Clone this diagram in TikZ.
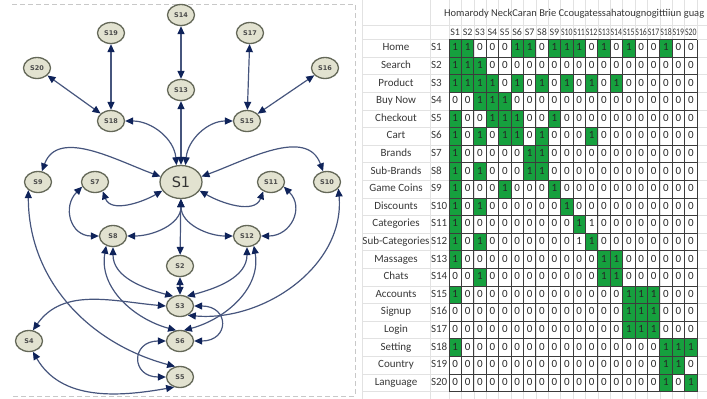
\documentclass[tikz,border=0pt]{standalone}
\usepackage{fontspec}
\usepackage{graphicx}
\setmainfont{Carlito}
\newfontfamily\graphfont{DejaVu Sans}
\usetikzlibrary{shapes.geometric,arrows.meta}

\definecolor{nodefill}{RGB}{226,226,208}
\definecolor{nodeline}{RGB}{100,104,88}
\definecolor{nodetext}{RGB}{75,75,75}
\definecolor{edgeline}{RGB}{70,85,125}
\definecolor{tipcol}{RGB}{15,35,90}
\definecolor{framegray}{RGB}{200,200,200}
\definecolor{sheetgrid}{RGB}{226,226,226}
\definecolor{cellline}{RGB}{60,60,60}
\definecolor{cellgreen}{RGB}{22,160,62}
\definecolor{labeltext}{RGB}{55,55,55}

% worksheet geometry: first cell column, cell width, first row top, row pitch
\def\cxo{449}
\def\cw{12.4}
\def\ryo{39.5}
\def\rh{17.6}

\begin{document}
\begin{tikzpicture}[x=1pt,y=1pt,
  st/.style={ellipse, draw=nodeline, fill=nodefill, line width=1.3pt,
    minimum width=27pt, minimum height=21pt, inner sep=0pt,
    font=\graphfont\bfseries\fontsize{6.5}{7}\selectfont, text=nodetext},
  hub/.style={st, minimum width=42pt, minimum height=33pt,
    font=\graphfont\fontsize{14.5}{16}\selectfont, text=black!80},
  lk/.style={draw=edgeline, line width=1.2pt,
    >={Triangle[length=8pt,width=7pt,color=tipcol]}, <->},
  sheettext/.style={inner sep=0pt, text height=7.2pt, text depth=2pt,
    font=\fontsize{11}{12}\selectfont, text=labeltext},
  digit/.style={sheettext, text=black!85},
  colhead/.style={sheettext, font=\fontsize{10}{12}\selectfont}
]
\useasboundingbox (0,0) rectangle (707,-399);

% ---------- left panel: frame ----------
\draw[framegray, line width=0.8pt, dash pattern=on 5pt off 3pt]
  (12,-4) -- (355,-4) -- (355,-396) -- (12,-396);

% ---------- graph nodes ----------
\node[st]  (S14) at (181,-15)  {S14};
\node[st]  (S19) at (111,-33)  {S19};
\node[st]  (S17) at (250,-33)  {S17};
\node[st]  (S20) at (37,-68)   {S20};
\node[st]  (S16) at (325,-68)  {S16};
\node[st]  (S13) at (181,-90)  {S13};
\node[st]  (S18) at (111,-121) {S18};
\node[st]  (S15) at (247,-121) {S15};
\node[hub] (S1)  at (181,-182) {S1};
\node[st]  (S9)  at (38,-182)  {S9};
\node[st]  (S7)  at (95,-182)  {S7};
\node[st]  (S11) at (271,-182) {S11};
\node[st]  (S10) at (327,-182) {S10};
\node[st]  (S8)  at (113,-236) {S8};
\node[st]  (S12) at (247,-236) {S12};
\node[st]  (S2)  at (180,-266) {S2};
\node[st]  (S3)  at (180,-306) {S3};
\node[st]  (S4)  at (29,-341)  {S4};
\node[st]  (S6)  at (180,-341) {S6};
\node[st]  (S5)  at (180,-377) {S5};

% ---------- graph connectors ----------
\draw[lk] (S14) -- (S13);
\draw[lk] (S13) -- (S1);
\draw[lk] (S19) -- (S18);
\draw[lk] (S20) -- (S18);
\draw[lk] (S17) -- (S15);
\draw[lk] (S16) -- (S15);
\draw[lk] (S18.east) to[out=0,in=95] (S1.105);
\draw[lk] (S15.west) to[out=180,in=85] (S1.75);
\draw[lk] (S9.70) to[out=70,in=160] (S1.165);
\draw[lk] (S10.110) to[out=110,in=20] (S1.15);
\draw[lk] (S7.200) to[out=225,in=180,looseness=1.4] (S8.west);
\draw[lk] (S11.-20) to[out=-45,in=0,looseness=1.4] (S12.east);
\draw[lk] (S7.-50) to[out=-70,in=210] (S1.205);
\draw[lk] (S11.230) to[out=250,in=-30] (S1.-25);
\draw[lk] (S8.east) to[out=0,in=-90] (S1.south);
\draw[lk] (S12.west) to[out=180,in=-90] (S1.south);
\draw[lk] (S1) -- (S2);
\draw[lk] (S2) -- (S3);
\draw[lk] (S8.south) to[out=-90,in=165] (S3.125);
\draw[lk] (S12.south) to[out=-90,in=15] (S3.55);
\draw[lk] (S8.235) to[out=-100,in=165] (S6.110);
\draw[lk] (S12.-55) to[out=-80,in=15] (S6.70);
\draw[lk] (S10.-30) to[out=-85,in=-5] (S3.-50);
\draw[lk] (S3.west) to[out=175,in=55] (S4.70);
\draw[lk] (S3.east) to[out=0,in=0,looseness=2.6] (S6.east);
\draw[lk] (S6.west) to[out=180,in=180,looseness=2.5] (S5.west);
\draw[lk] (S9.220) to[out=-90,in=165] (S5.115);
\draw[lk] (S4.-70) to[out=-60,in=190] (S5.240);

% ---------- right panel: worksheet gridlines ----------
\foreach \k in {0,...,20}
  \draw[sheetgrid, line width=0.6pt] (362,{-\ryo-\k*\rh}) -- (707,{-\ryo-\k*\rh});
\draw[sheetgrid, line width=0.6pt] (362,-25) -- (707,-25);
\foreach \xx in {362,430}
  \draw[sheetgrid, line width=0.6pt] (\xx,0) -- (\xx,-399);
\foreach \k in {0,...,20}
  \draw[sheetgrid, line width=0.6pt] ({\cxo+\k*\cw},0) -- ({\cxo+\k*\cw},-399);

% ---------- column headings ----------
\node[sheettext, anchor=west] at (444,-14)
  {\resizebox{260pt}{!}{Homarody NeckCaran Brie Ccougatessahatougnogittiiun guag}};
\foreach \j in {1,...,20} {
  \ifnum\j<10
    \node[colhead] at ({\cxo+(\j-0.5)*\cw},-32.5) {S\j};
  \else
    \node[colhead] at ({\cxo+(\j-0.5)*\cw},-32.5) {\scalebox{0.78}[1]{S\j}};
  \fi
}

% ---------- matrix rows: 2 = marked 1, 1 = plain 1, 0 = 0 ----------
\foreach \i/\nm/\vals in {
  1/Home/{2,2,0,0,0,2,2,0,2,2,2,0,2,0,2,0,0,2,0,0},
  2/Search/{2,2,2,0,0,0,0,0,0,0,0,0,0,0,0,0,0,0,0,0},
  3/Product/{2,2,2,2,0,2,0,2,0,2,0,2,0,2,0,0,0,0,0,0},
  4/Buy Now/{0,0,2,2,2,0,0,0,0,0,0,0,0,0,0,0,0,0,0,0},
  5/Checkout/{2,0,0,2,2,2,0,0,2,0,0,0,0,0,0,0,0,0,0,0},
  6/Cart/{2,0,2,0,2,2,0,2,0,0,0,2,0,0,0,0,0,0,0,0},
  7/Brands/{2,0,0,0,0,0,2,2,0,0,0,0,0,0,0,0,0,0,0,0},
  8/Sub-Brands/{2,0,2,0,0,0,2,2,0,0,0,0,0,0,0,0,0,0,0,0},
  9/Game Coins/{2,0,0,0,2,0,0,0,2,0,0,0,0,0,0,0,0,0,0,0},
  10/Discounts/{2,0,2,0,0,0,0,0,0,2,0,0,0,0,0,0,0,0,0,0},
  11/Categories/{2,0,0,0,0,0,0,0,0,0,2,1,0,0,0,0,0,0,0,0},
  12/Sub-Categories/{2,0,2,0,0,0,0,0,0,0,1,2,0,0,0,0,0,0,0,0},
  13/Massages/{2,0,0,0,0,0,0,0,0,0,0,0,2,2,0,0,0,0,0,0},
  14/Chats/{0,0,2,0,0,0,0,0,0,0,0,0,2,2,0,0,0,0,0,0},
  15/Accounts/{2,0,0,0,0,0,0,0,0,0,0,0,0,0,2,2,2,0,0,0},
  16/Signup/{0,0,0,0,0,0,0,0,0,0,0,0,0,0,2,2,2,0,0,0},
  17/Login/{0,0,0,0,0,0,0,0,0,0,0,0,0,0,2,2,2,0,0,0},
  18/Setting/{2,0,0,0,0,0,0,0,0,0,0,0,0,0,0,0,0,2,2,2},
  19/Country/{0,0,0,0,0,0,0,0,0,0,0,0,0,0,0,0,0,2,2,0},
  20/Language/{0,0,0,0,0,0,0,0,0,0,0,0,0,0,0,0,0,2,0,2}} {
  \node[sheettext] at (396,{-\ryo-(\i-0.5)*\rh}) {\nm};
  \node[sheettext, anchor=west] at (430.8,{-\ryo-(\i-0.5)*\rh}) {S\i};
  \foreach \v [count=\j] in \vals {
    \ifnum\v=2
      \fill[cellgreen] ({\cxo+(\j-1)*\cw},{-\ryo-(\i-1)*\rh}) rectangle ++(\cw,-\rh);
    \fi
    \node[digit] at ({\cxo+(\j-0.5)*\cw},{-\ryo-(\i-0.5)*\rh}) {\ifnum\v=0 0\else 1\fi};
  }
}

% ---------- matrix cell borders ----------
\foreach \k in {0,...,20} {
  \draw[cellline, line width=0.8pt] (\cxo,{-\ryo-\k*\rh}) -- ({\cxo+20*\cw},{-\ryo-\k*\rh});
  \draw[cellline, line width=0.8pt] ({\cxo+\k*\cw},-\ryo) -- ({\cxo+\k*\cw},{-\ryo-20*\rh});
}
\end{tikzpicture}
\end{document}
